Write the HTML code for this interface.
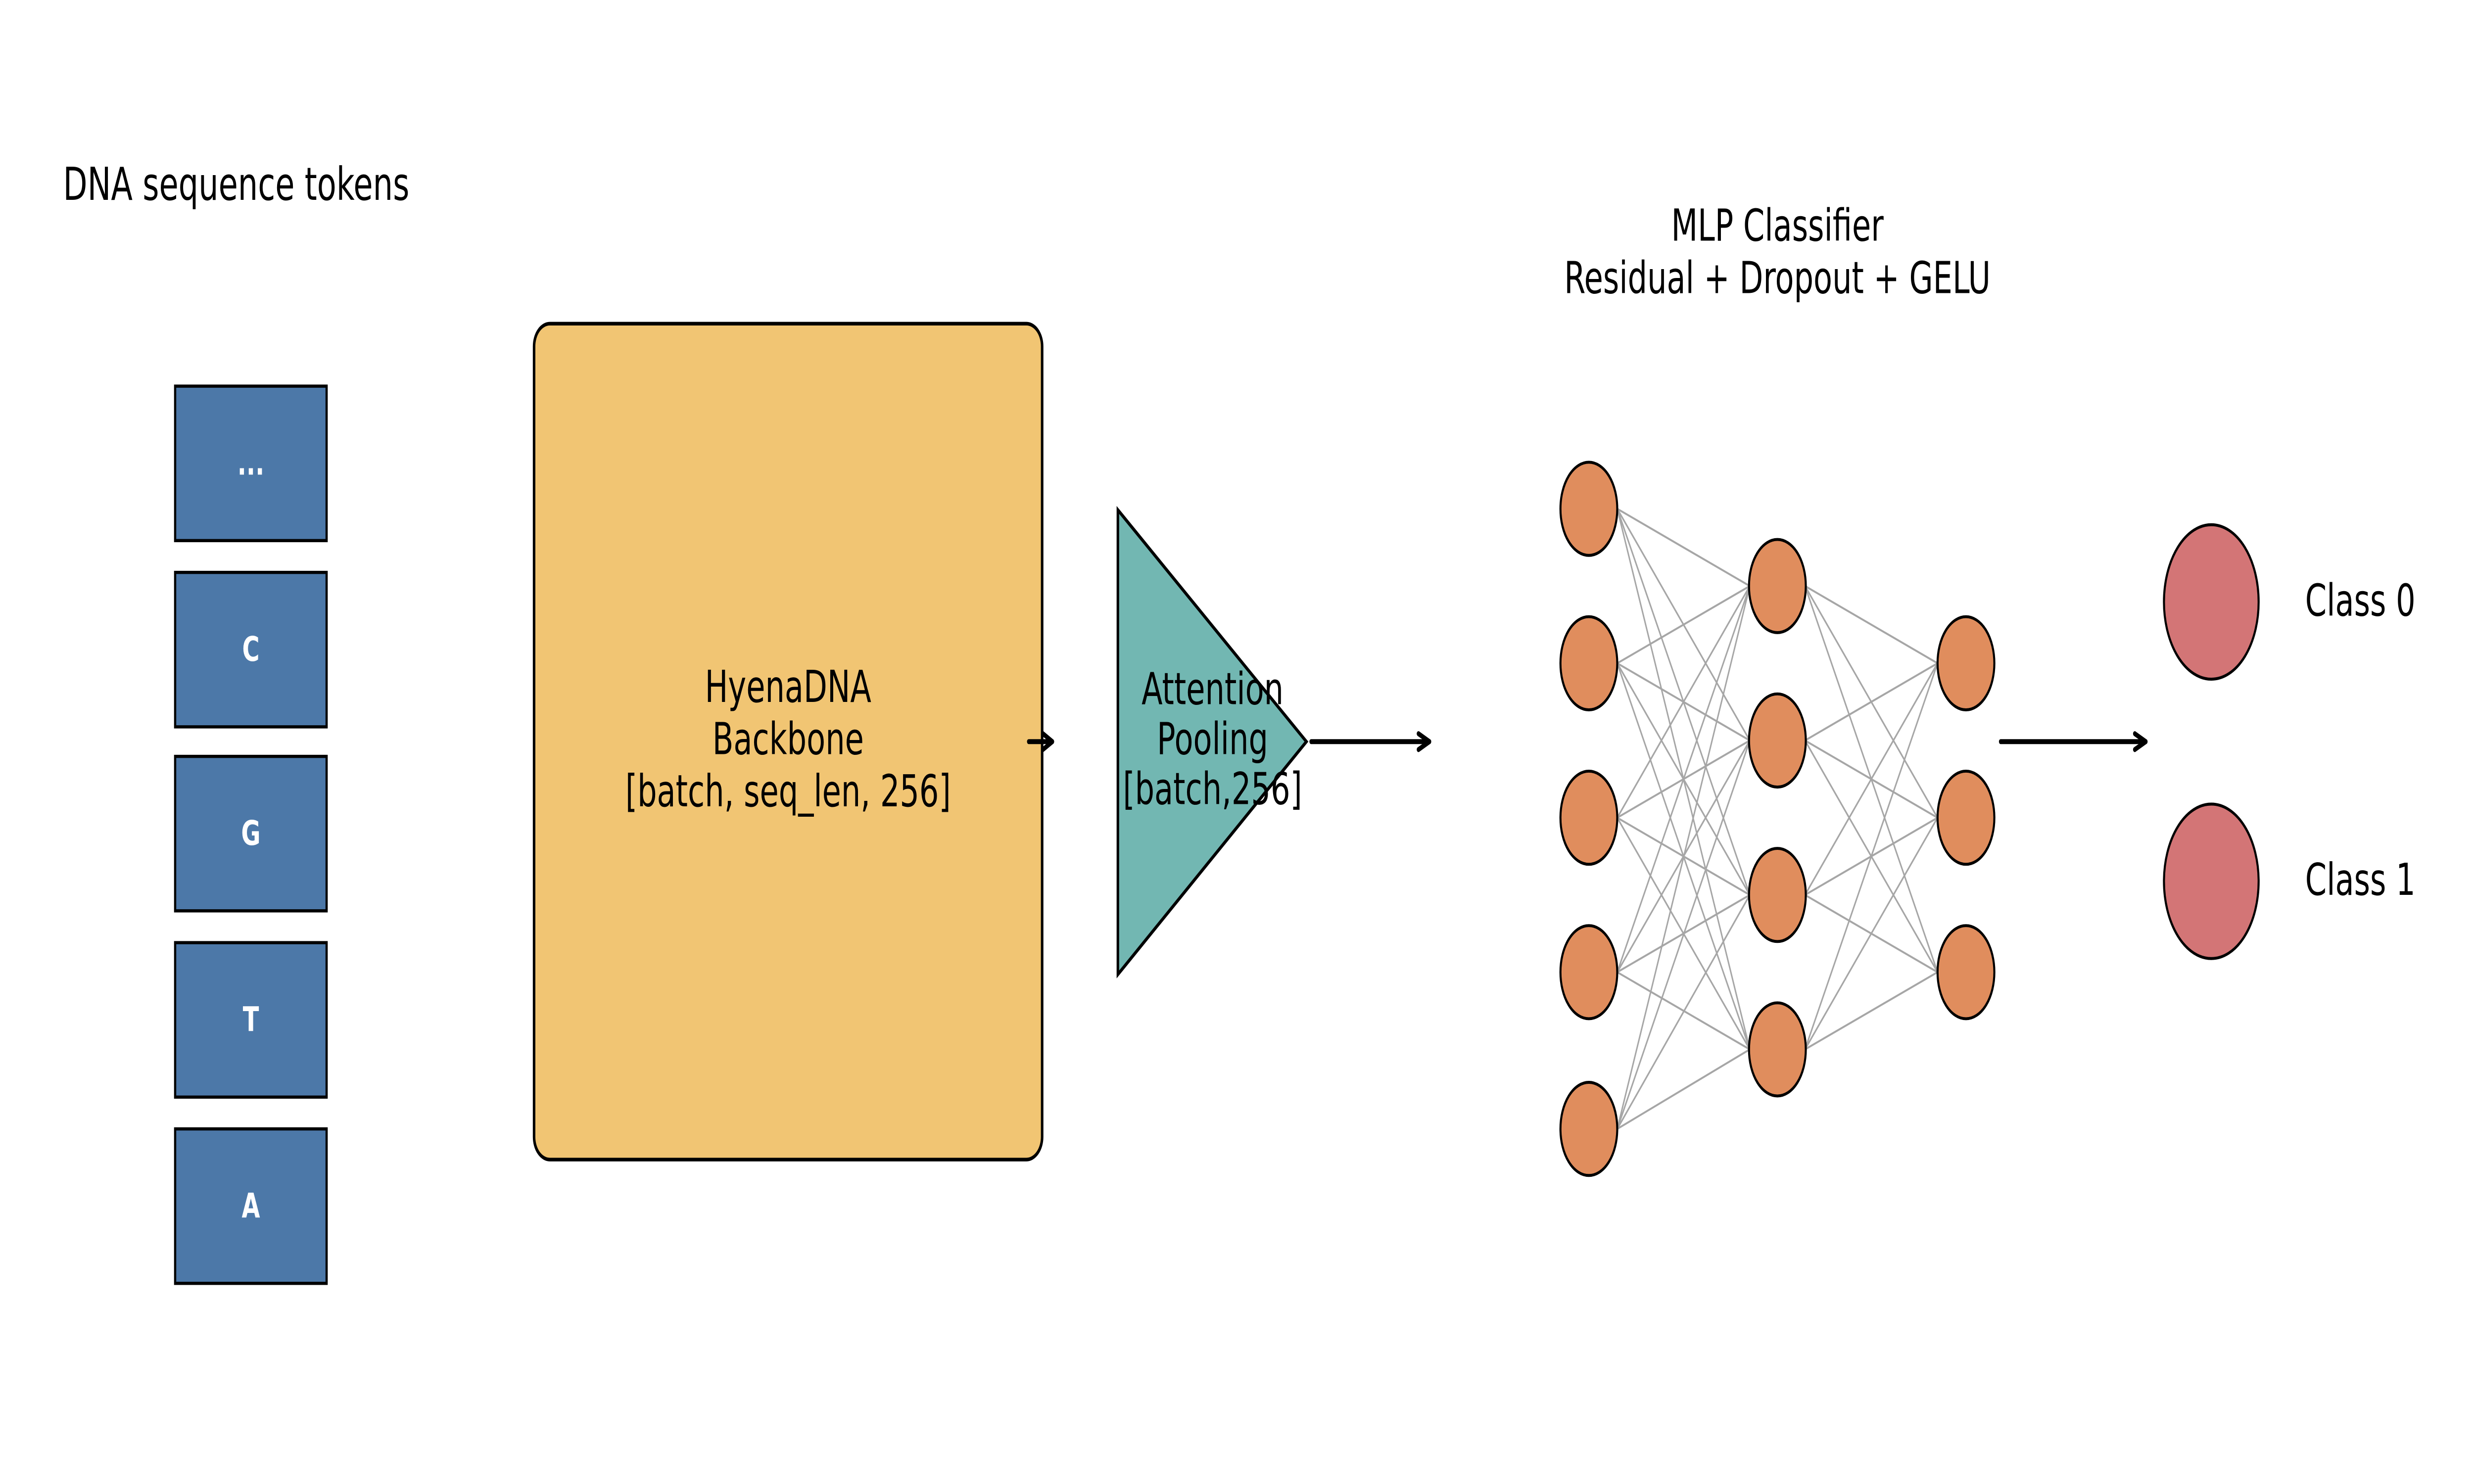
<!DOCTYPE html>
<html><head><meta charset="utf-8"><style>
html,body{margin:0;padding:0;background:#fff;overflow:hidden;width:100%;height:100%;}
svg{display:block;width:100vw;height:100vh;}
text{font-family:"DejaVu Sans","Liberation Sans",sans-serif;}
</style></head><body>
<svg viewBox="0 0 1568 653.33" preserveAspectRatio="none" xmlns="http://www.w3.org/2000/svg">
<rect x="0" y="0" width="1568" height="653.33" fill="#fff"/>
<text x="40" y="88" font-size="20" fill="#000">DNA sequence tokens</text>
<g fill="#4C78A8" stroke="#000" stroke-width="1.4">
<rect x="111" y="170" width="96" height="68"/>
<rect x="111" y="252" width="96" height="68"/>
<rect x="111" y="333" width="96" height="68"/>
<rect x="111" y="415" width="96" height="68"/>
<rect x="111" y="497" width="96" height="68"/>
</g>
<g fill="#fff" font-size="15" font-weight="bold" text-anchor="middle">
<text x="159" y="209">...</text>
<text x="159" y="291">C</text>
<text x="159" y="372">G</text>
<text x="159" y="454">T</text>
<text x="159" y="536">A</text>
</g>
<rect x="338.5" y="142.5" width="322" height="368" rx="10" fill="#F1C573" stroke="#000" stroke-width="1.6"/>
<g font-size="19.5" text-anchor="middle" fill="#000">
<text x="499.5" y="309">HyenaDNA</text>
<text x="499.5" y="332">Backbone</text>
<text x="499.5" y="355">[batch, seq_len, 256]</text>
</g>
<polygon points="708.5,224.5 708.5,429 828,326.5" fill="#72B7B2" stroke="#000" stroke-width="1.6"/>
<g font-size="19.5" text-anchor="middle" fill="#000">
<text x="768.5" y="310">Attention</text>
<text x="768.5" y="332">Pooling</text>
<text x="768.5" y="354">[batch,256]</text>
</g>
<g stroke="#000" stroke-width="2.2" fill="none" stroke-linecap="round" stroke-linejoin="round">
<line x1="652" y1="326.5" x2="667" y2="326.5"/><polyline points="661,323 667,326.5 661,330"/>
<line x1="831" y1="326.5" x2="906" y2="326.5"/><polyline points="899,323 906,326.5 899,330"/>
<line x1="1268" y1="326.5" x2="1360" y2="326.5"/><polyline points="1353,323 1360,326.5 1353,330"/>
</g>
<g font-size="19.5" text-anchor="middle" fill="#000">
<text x="1126.5" y="106">MLP Classifier</text>
<text x="1126.5" y="129">Residual + Dropout + GELU</text>
</g>
<g stroke="#a6a6a6" stroke-width="0.9">
<path d="M1025,224 L1109,258 M1025,224 L1109,326 M1025,224 L1109,394 M1025,224 L1109,462
M1025,292 L1109,258 M1025,292 L1109,326 M1025,292 L1109,394 M1025,292 L1109,462
M1025,360 L1109,258 M1025,360 L1109,326 M1025,360 L1109,394 M1025,360 L1109,462
M1025,428 L1109,258 M1025,428 L1109,326 M1025,428 L1109,394 M1025,428 L1109,462
M1025,497 L1109,258 M1025,497 L1109,326 M1025,497 L1109,394 M1025,497 L1109,462
M1144,258 L1228,292 M1144,258 L1228,360 M1144,258 L1228,428
M1144,326 L1228,292 M1144,326 L1228,360 M1144,326 L1228,428
M1144,394 L1228,292 M1144,394 L1228,360 M1144,394 L1228,428
M1144,462 L1228,292 M1144,462 L1228,360 M1144,462 L1228,428" fill="none"/>
</g>
<g fill="#E08D5D" stroke="#000" stroke-width="1.3">
<ellipse cx="1007" cy="224" rx="18" ry="20.5"/>
<ellipse cx="1007" cy="292" rx="18" ry="20.5"/>
<ellipse cx="1007" cy="360" rx="18" ry="20.5"/>
<ellipse cx="1007" cy="428" rx="18" ry="20.5"/>
<ellipse cx="1007" cy="497" rx="18" ry="20.5"/>
<ellipse cx="1126.5" cy="258" rx="18" ry="20.5"/>
<ellipse cx="1126.5" cy="326" rx="18" ry="20.5"/>
<ellipse cx="1126.5" cy="394" rx="18" ry="20.5"/>
<ellipse cx="1126.5" cy="462" rx="18" ry="20.5"/>
<ellipse cx="1246" cy="292" rx="18" ry="20.5"/>
<ellipse cx="1246" cy="360" rx="18" ry="20.5"/>
<ellipse cx="1246" cy="428" rx="18" ry="20.5"/>
</g>
<g fill="#D37576" stroke="#000" stroke-width="1.3">
<ellipse cx="1401.5" cy="265" rx="30" ry="34"/>
<ellipse cx="1401.5" cy="388" rx="30" ry="34"/>
</g>
<g font-size="19.5" fill="#000">
<text x="1461" y="271">Class 0</text>
<text x="1461" y="394">Class 1</text>
</g>
</svg>
</body></html>
